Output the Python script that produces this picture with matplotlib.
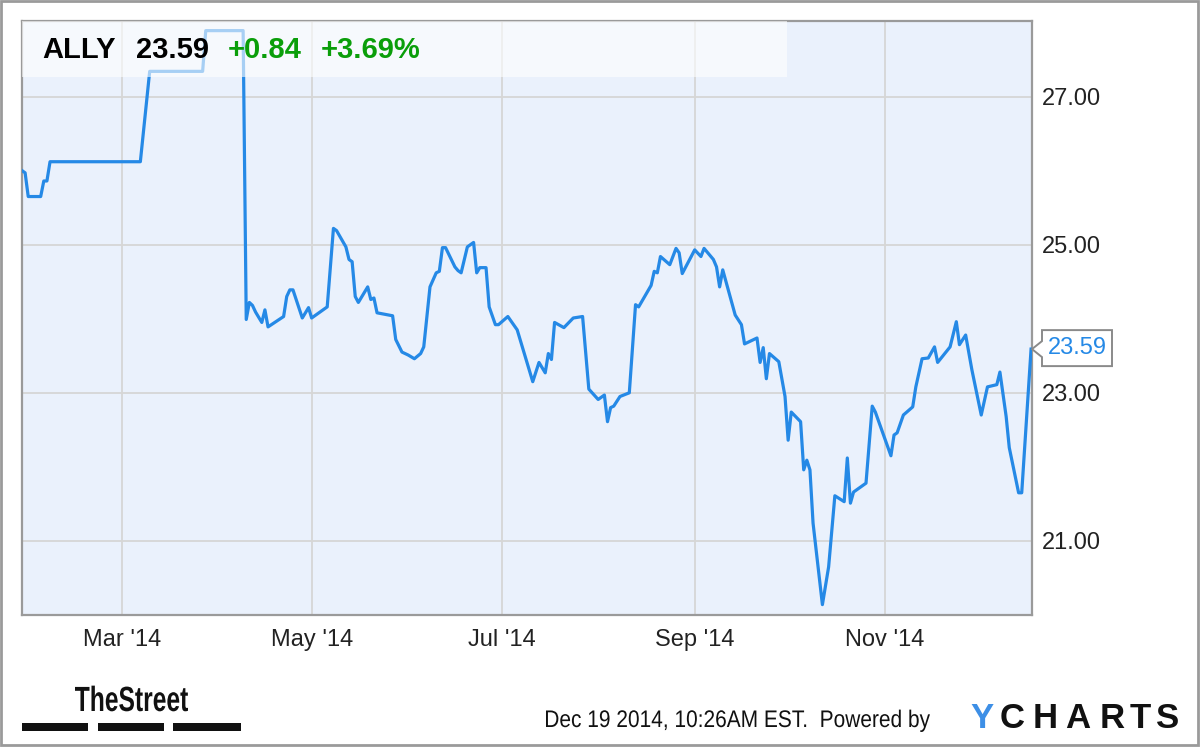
import matplotlib
matplotlib.use("Agg")
import matplotlib.pyplot as plt
import matplotlib.dates as mdates
import matplotlib.transforms as mtransforms
from matplotlib.patches import Rectangle, Polygon, PathPatch
from matplotlib.textpath import TextPath
from matplotlib.font_manager import FontProperties
import pandas as pd

# ---------------- data ----------------
ticker = "ALLY"
last_price_label = "23.59"
change_abs = "+0.84"
change_pct = "+3.69%"
timestamp_text = "Dec 19 2014, 10:26AM EST.  Powered by"

# day of year 2014 (0 = Jan 1)
day_of_year = [
    27, 28, 29, 33, 34, 35, 36, 65, 68, 85,
    86, 98, 99, 100, 101, 102, 104, 105, 106, 111,
    112, 113, 114, 117, 119, 120, 125, 127, 128, 131,
    132, 133, 134, 135, 138, 139, 140, 141, 146, 147,
    149, 151, 153, 155, 156, 158, 160, 161, 162, 163,
    166, 167, 168, 170, 172, 173, 174, 176, 177, 179,
    180, 183, 186, 191, 193, 195, 196, 197, 198, 201,
    204, 207, 209, 212, 214, 215, 216, 217, 219, 222,
    224, 225, 229, 230, 231, 232, 235, 237, 238, 239,
    243, 245, 246, 249, 250, 251, 252, 256, 258, 259,
    263, 264, 265, 266, 267, 270, 272, 273, 274, 277,
    278, 279, 280, 281, 284, 286, 288, 291, 292, 293,
    294, 298, 300, 301, 306, 307, 308, 310, 313, 314,
    316, 318, 320, 321, 325, 327, 328, 330, 332, 335,
    337, 340, 341, 343, 344, 347, 348, 350, 351,
]
price = [
    26.00, 25.97, 25.65, 25.65, 25.86, 25.86, 26.12, 26.12, 27.34, 27.34,
    27.89, 27.89, 23.99, 24.22, 24.18, 24.09, 23.95, 24.12, 23.89, 24.03,
    24.30, 24.39, 24.39, 24.01, 24.15, 24.01, 24.16, 25.22, 25.19, 24.97,
    24.80, 24.77, 24.30, 24.22, 24.43, 24.26, 24.28, 24.08, 24.04, 23.72,
    23.55, 23.51, 23.46, 23.53, 23.62, 24.43, 24.62, 24.64, 24.96, 24.96,
    24.70, 24.65, 24.62, 24.97, 25.03, 24.62, 24.69, 24.69, 24.16, 23.92,
    23.92, 24.03, 23.85, 23.15, 23.41, 23.27, 23.53, 23.45, 23.95, 23.88,
    24.01, 24.03, 23.05, 22.91, 22.97, 22.61, 22.80, 22.82, 22.95, 23.00,
    24.19, 24.16, 24.45, 24.64, 24.62, 24.84, 24.73, 24.95, 24.89, 24.61,
    24.93, 24.84, 24.95, 24.80, 24.70, 24.43, 24.66, 24.05, 23.92, 23.66,
    23.74, 23.41, 23.61, 23.19, 23.53, 23.42, 22.95, 22.36, 22.74, 22.61,
    21.96, 22.09, 21.96, 21.24, 20.14, 20.65, 21.61, 21.53, 22.12, 21.51,
    21.66, 21.78, 22.82, 22.74, 22.15, 22.43, 22.46, 22.70, 22.81, 23.08,
    23.46, 23.47, 23.62, 23.41, 23.62, 23.96, 23.65, 23.78, 23.31, 22.70,
    23.08, 23.11, 23.28, 22.68, 22.26, 21.65, 21.65, 22.93, 23.59,
]

y_ticks = [21, 23, 25, 27]
x_tick_dates = ["2014-03-01", "2014-05-01", "2014-07-01", "2014-09-01", "2014-11-01"]

# ---------------- styling ----------------
LINE = "#2589e6"
BG = "#eaf1fc"
GRID = "#d6d6d6"
FRAME = "#9a9a9a"
GREEN = "#0a9e0a"
TXT = "#222222"
FONT = ["Liberation Sans", "DejaVu Sans"]
plt.rcParams["font.family"] = FONT

W, H = 1200, 747
fig = plt.figure(figsize=(W / 100, H / 100), dpi=100)
fig.patch.set_facecolor("white")


def fx(px):
    return px / W


def fy(py):
    return 1 - py / H


def condensed_text(x_px, base_px, s, em_px, width_px, color, weight="normal"):
    tp = TextPath((0, 0), s, size=em_px,
                  prop=FontProperties(family="Liberation Sans", weight=weight))
    ext = tp.get_extents()
    sx = width_px / ext.width
    tr = mtransforms.Affine2D().translate(-ext.x0, 0).scale(sx, 1).translate(x_px, H - base_px)
    fig.patches.append(PathPatch(tr.transform_path(tp), facecolor=color, edgecolor="none",
                                 lw=0, transform=mtransforms.IdentityTransform()))


ax = fig.add_axes([fx(22), fy(615), fx(1032) - fx(22), fy(21) - fy(615)])
ax.set_facecolor(BG)

dates = pd.Timestamp("2014-01-01") + pd.to_timedelta(day_of_year, unit="D")
ax.plot(dates, price, color=LINE, lw=2.3, solid_joinstyle="round", zorder=3)

start = pd.Timestamp("2014-01-01") + pd.Timedelta(days=27)
end = pd.Timestamp("2014-01-01") + pd.Timedelta(days=351.3)
ax.set_xlim(start, end)
ax.set_ylim(20.0, 28.02)

ax.set_xticks(pd.to_datetime(x_tick_dates))
ax.xaxis.set_major_formatter(mdates.DateFormatter("%b '%y"))
ax.set_yticks(y_ticks)
ax.set_yticklabels([f"{v:.2f}" for v in y_ticks])
ax.yaxis.tick_right()
ax.tick_params(axis="both", length=0, labelsize=17, colors=TXT)
ax.tick_params(axis="y", pad=7)
ax.tick_params(axis="x", pad=10)
ax.grid(True, color=GRID, lw=1.3, zorder=0)
ax.set_axisbelow(True)
for s in ax.spines.values():
    s.set_color(FRAME)
    s.set_linewidth(1.6)

# header band (semi-transparent over the line)
ax.add_patch(Rectangle((0, (615 - 77) / 594), (787 - 22) / 1010, 1 - (615 - 77) / 594,
                       transform=ax.transAxes, facecolor="white", alpha=0.6,
                       edgecolor="none", zorder=4))

hy = fy(50)
fig.text(fx(42), hy, ticker, fontsize=21, fontweight="bold", color="black", va="center")
fig.text(fx(136), hy, last_price_label, fontsize=21, fontweight="bold", color="black", va="center")
fig.text(fx(228), hy, change_abs, fontsize=21, fontweight="bold", color=GREEN, va="center")
fig.text(fx(321), hy, change_pct, fontsize=21, fontweight="bold", color=GREEN, va="center")

# last-price callout
fig.canvas.draw()
anchor = ax.transData.transform((mdates.date2num(dates[-1]), price[-1]))
ax_px = ax.transAxes.transform((1, 0))[0]
ay = anchor[1]
verts = [(ax_px, ay), (ax_px + 10, ay + 8), (ax_px + 10, ay + 19), (ax_px + 80, ay + 19),
         (ax_px + 80, ay - 17), (ax_px + 10, ay - 17), (ax_px + 10, ay - 8)]
poly = Polygon(verts, closed=True, facecolor="white", edgecolor="#8a8a8a", lw=1.4,
               transform=mtransforms.IdentityTransform(), zorder=10)
fig.patches.append(poly)
fig.text((ax_px + 45) / W, (ay + 1) / H, last_price_label, fontsize=17, color=LINE,
         ha="center", va="center", zorder=11)

# footer: TheStreet logo (condensed bold)
condensed_text(75, 711, "TheStreet", 35, 113, "#111111", weight="bold")
for x0, x1 in [(22, 88), (98, 164), (173, 241)]:
    fig.patches.append(Rectangle((fx(x0), fy(731)), fx(x1) - fx(x0), fy(723) - fy(731),
                                 transform=fig.transFigure, facecolor="#111111",
                                 edgecolor="none"))

condensed_text(546, 727, timestamp_text, 24, 384, "#111111")

ychart_letters = ["Y", "C", "H", "A", "R", "T", "S"]
ychart_x = [982, 1012, 1045, 1078, 1112, 1140, 1168]
for i, (ch, cx) in enumerate(zip(ychart_letters, ychart_x)):
    fig.text(fx(cx), fy(728), ch, fontsize=25, fontweight="bold",
             color="#3d8fe6" if i == 0 else "#111111", ha="center", va="baseline")

# outer border
fig.patches.append(Rectangle((fx(1), fy(745)), fx(1198) - fx(1), fy(1) - fy(745),
                             transform=fig.transFigure, fill=False, edgecolor="#9a9a9a",
                             lw=2))

fig.savefig("out.png", dpi=100)
